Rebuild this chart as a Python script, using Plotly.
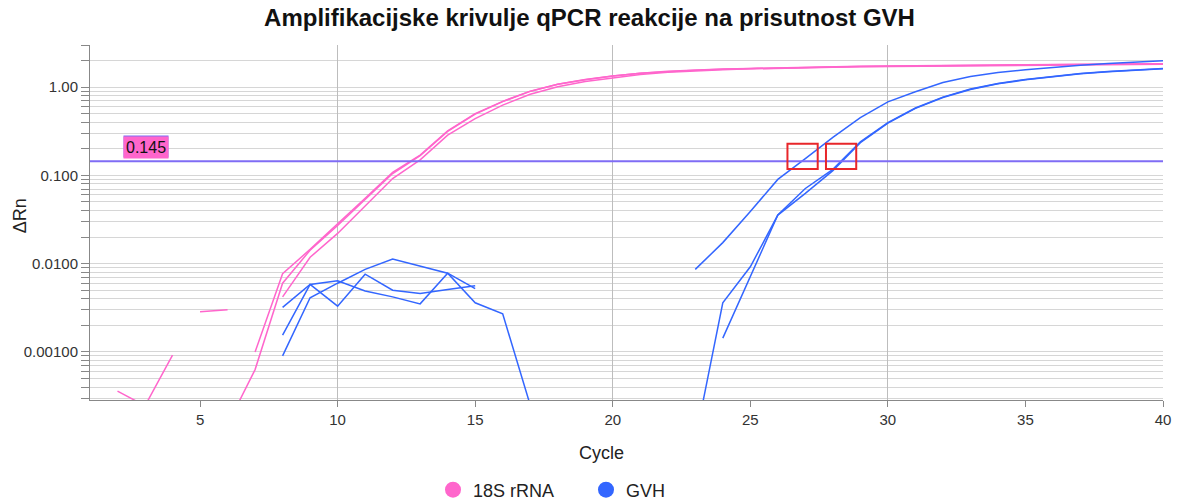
import math
import plotly.graph_objects as go

# ---------------- data ----------------
cycles = list(range(1, 41))

rrna_rep1 = [None, 0.00036, 0.000245, 0.00092, None, None, 0.00100, 0.0077, 0.0145, 0.028,
             0.055, 0.108, 0.170, 0.32, 0.50, 0.69, 0.90, 1.08, 1.22, 1.34,
             1.44, 1.51, 1.56, 1.60, 1.63, 1.66, 1.68, 1.70, 1.72, 1.73,
             1.75, 1.76, 1.77, 1.78, 1.79, 1.80, 1.81, 1.82, 1.83, 1.84]
rrna_rep2 = [None, None, None, None, None, 0.00015, 0.00063, 0.0060, 0.0142, 0.027,
             0.053, 0.105, 0.167, 0.315, 0.495, 0.685, 0.895, 1.075, 1.215, 1.335,
             1.435, 1.505, 1.555, 1.595, 1.625, 1.655, 1.675, 1.695, 1.715, 1.725,
             1.745, 1.755, 1.765, 1.775, 1.785, 1.795, 1.805, 1.815, 1.825, 1.835]
rrna_rep3 = [None, None, None, None, 0.00285, 0.0030, None, 0.0042, 0.0118, 0.022,
             0.045, 0.092, 0.150, 0.285, 0.44, 0.625, 0.83, 1.01, 1.16, 1.28,
             1.39, 1.47, 1.53, 1.57, 1.61, 1.64, 1.66, 1.68, 1.70, 1.71,
             1.73, 1.74, 1.75, 1.76, 1.77, 1.78, 1.79, 1.80, 1.81, 1.82]

gvh_rep1 = [None, None, None, None, None, None, None, 0.0032, 0.0058, 0.0064,
            0.0049, 0.0042, 0.0035, 0.0078, 0.0052, None, None, None, None, None,
            None, None, 0.0086, 0.0173, 0.039, 0.090, 0.155, 0.27, 0.45, 0.68,
            0.885, 1.13, 1.32, 1.46, 1.57, 1.68, 1.77, 1.85, 1.93, 1.99]
gvh_rep2 = [None, None, None, None, None, None, None, 0.00155, 0.0058, 0.0033,
            0.0076, 0.0050, 0.0046, 0.0051, 0.0056, None, None, None, None, None,
            None, None, None, 0.00143, 0.0071, 0.0355, 0.0625, 0.113, 0.235, 0.39,
            0.574, 0.764, 0.94, 1.09, 1.21, 1.32, 1.42, 1.49, 1.55, 1.61]
gvh_rep3 = [None, None, None, None, None, None, None, 0.0009, 0.0041, 0.0060,
            0.0086, 0.0113, 0.0094, 0.0078, 0.0036, 0.0027, 0.00025, None, None, None,
            None, None, 0.0001, 0.0036, 0.0092, 0.0355, 0.071, 0.117, 0.24, 0.395,
            0.58, 0.77, 0.95, 1.10, 1.22, 1.33, 1.43, 1.50, 1.56, 1.62]

threshold = 0.145
threshold_label = "0.145"
ct_values = [26.9, 28.3]

series_names = ["18S rRNA", "GVH"]
x_tick_values = [5, 10, 15, 20, 25, 30, 35, 40]
x_grid_values = [10, 20, 30, 40]
y_decades = [0.001, 0.01, 0.1, 1.0]
y_tick_labels = ["0.00100", "0.0100", "0.100", "1.00"]

x_range = [1, 40]
y_range = [0.000285, 3.0]

# ---------------- styles ----------------
PINK = "#ff66cc"
BLUE = "#3366ff"
THR = "#7f6cf5"
FONT = "Liberation Sans, Arial, sans-serif"
OFF = 8            # page body margin of the browser
W, H = 1182 - OFF, 502 - OFF

fig = go.Figure()

for ys in (rrna_rep1, rrna_rep2, rrna_rep3):
    fig.add_trace(go.Scatter(x=cycles, y=ys, mode="lines", showlegend=False,
                             line=dict(color=PINK, width=1.5), hoverinfo="skip"))
for ys in (gvh_rep1, gvh_rep2, gvh_rep3):
    fig.add_trace(go.Scatter(x=cycles, y=ys, mode="lines", showlegend=False,
                             line=dict(color=BLUE, width=1.5), hoverinfo="skip"))

# threshold line (on the overlay axis that carries the vertical grid)
fig.add_trace(go.Scatter(x=x_range, y=[threshold, threshold], mode="lines",
                         xaxis="x2", showlegend=False, hoverinfo="skip",
                         line=dict(color=THR, width=2)))

# legend entries
for name, col in zip(series_names, (PINK, BLUE)):
    fig.add_trace(go.Scatter(x=[None], y=[None], mode="markers", name=name,
                             marker=dict(size=17, color=col)))

# Ct boxes
for ct in ct_values:
    fig.add_shape(type="rect", xref="x", yref="y",
                  x0=ct - 0.55, x1=ct + 0.55, y0=0.118, y1=0.228,
                  line=dict(color="#e8262a", width=2))

# threshold label
ylab = math.log10(threshold)
fig.add_annotation(x=2.2, y=ylab, xref="x", yref="y", text=threshold_label,
                   showarrow=False, xanchor="left", yanchor="bottom", yshift=3.5,
                   font=dict(size=16, color="rgba(0,0,0,0)", family=FONT),
                   bgcolor=THR, borderpad=2)
fig.add_annotation(x=2.2, y=ylab, xref="x", yref="y", text=threshold_label,
                   showarrow=False, xanchor="left", yanchor="bottom", yshift=2,
                   font=dict(size=16, color="#111", family=FONT),
                   bgcolor=PINK, borderpad=2)

# axis titles
fig.add_annotation(x=-0.0652, y=0.518, xref="paper", yref="paper", text="ΔRn",
                   showarrow=False, textangle=-90, xanchor="center", yanchor="middle",
                   font=dict(size=18, color="#222", family=FONT))
fig.add_annotation(x=0.477, y=-0.149, xref="paper", yref="paper", text="Cycle",
                   showarrow=False, xanchor="center", yanchor="middle",
                   font=dict(size=18, color="#222", family=FONT))

# y ticks: decades labelled, 2..9 unlabelled
y_tickvals, y_ticktext = [], []
for dec, lab in zip([0.0001] + y_decades, [""] + y_tick_labels):
    for k in range(1, 10):
        v = k * dec
        if y_range[0] <= v <= y_range[1]:
            y_tickvals.append(v)
            y_ticktext.append(lab if k == 1 else "")

fig.update_layout(
    width=W, height=H,
    paper_bgcolor="white", plot_bgcolor="white",
    margin=dict(l=90 - OFF, r=19, t=45 - OFF, b=H - (400 - OFF), autoexpand=False),
    font=dict(family=FONT, size=15, color="#333"),
    title=dict(text="<b>Amplifikacijske krivulje qPCR reakcije na prisutnost GVH</b>",
               x=(589.5 - OFF) / W, xanchor="center", y=1.0, yanchor="top",
               pad=dict(t=1),
               font=dict(size=24, color="#111", family=FONT)),
    xaxis=dict(range=x_range, tickvals=x_tick_values, showgrid=False,
               showline=True, linecolor="#888", linewidth=1,
               ticks="outside", ticklen=6, tickcolor="#888",
               zeroline=False, automargin=False,
               tickfont=dict(size=15, color="#333")),
    xaxis2=dict(range=x_range, overlaying="x", tickvals=x_grid_values,
                showgrid=True, gridcolor="#bdbdbd", gridwidth=1,
                showticklabels=False, ticks="", showline=False, zeroline=False),
    yaxis=dict(type="log", range=[math.log10(y_range[0]), math.log10(y_range[1])],
               tickvals=y_tickvals, ticktext=y_ticktext,
               showgrid=True, gridcolor="#d6d6d6", gridwidth=1,
               showline=True, linecolor="#888", linewidth=1,
               ticks="outside", ticklen=8, tickcolor="#888",
               zeroline=False, automargin=False,
               tickfont=dict(size=15, color="#333")),
    legend=dict(orientation="h", x=(433 - 90) / 1073, xanchor="left",
                y=(400 - 490) / 355, yanchor="middle",
                font=dict(size=18, color="#222"), itemsizing="trace",
                entrywidth=108),
    showlegend=True,
)

fig.write_html("out.html")
